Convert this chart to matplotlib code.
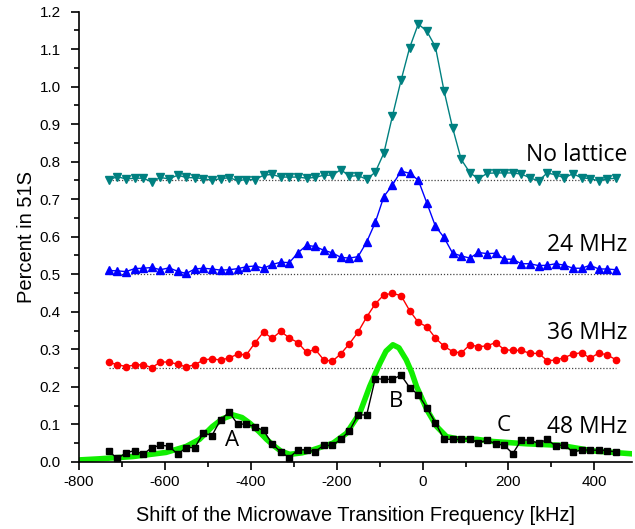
import matplotlib
matplotlib.use("Agg")
import matplotlib.pyplot as plt
import numpy as np
from matplotlib.ticker import MultipleLocator

plt.rcParams['axes.unicode_minus'] = False

# frequency shift [kHz], 20 kHz steps
freq = list(range(-730, 451, 20))

no_lattice = [0.752, 0.760, 0.754, 0.756, 0.756, 0.746, 0.758, 0.754, 0.764, 0.758,
              0.757, 0.755, 0.750, 0.755, 0.757, 0.750, 0.752, 0.752, 0.764, 0.766,
              0.759, 0.759, 0.759, 0.756, 0.758, 0.764, 0.764, 0.779, 0.761, 0.763,
              0.753, 0.772, 0.823, 0.922, 1.017, 1.104, 1.167, 1.148, 1.106, 0.989,
              0.890, 0.806, 0.771, 0.754, 0.769, 0.770, 0.770, 0.770, 0.767, 0.757,
              0.749, 0.770, 0.765, 0.757, 0.768, 0.757, 0.755, 0.749, 0.754, 0.756]

mhz24 = [0.510, 0.509, 0.507, 0.515, 0.516, 0.518, 0.512, 0.517, 0.508, 0.502,
         0.514, 0.516, 0.514, 0.511, 0.512, 0.515, 0.520, 0.522, 0.516, 0.526,
         0.532, 0.531, 0.557, 0.577, 0.574, 0.564, 0.557, 0.545, 0.543, 0.547,
         0.586, 0.638, 0.707, 0.738, 0.775, 0.769, 0.751, 0.690, 0.628, 0.598,
         0.556, 0.549, 0.543, 0.558, 0.555, 0.556, 0.540, 0.540, 0.528, 0.528,
         0.523, 0.524, 0.528, 0.524, 0.516, 0.516, 0.524, 0.514, 0.514, 0.512]

mhz36 = [0.265, 0.259, 0.254, 0.258, 0.259, 0.251, 0.266, 0.266, 0.260, 0.253,
         0.259, 0.271, 0.275, 0.271, 0.277, 0.287, 0.285, 0.317, 0.346, 0.329,
         0.348, 0.330, 0.318, 0.292, 0.300, 0.272, 0.268, 0.288, 0.315, 0.346,
         0.386, 0.421, 0.445, 0.449, 0.443, 0.403, 0.372, 0.360, 0.330, 0.308,
         0.294, 0.290, 0.312, 0.307, 0.309, 0.318, 0.299, 0.297, 0.297, 0.289,
         0.289, 0.270, 0.271, 0.278, 0.287, 0.291, 0.276, 0.290, 0.285, 0.272]

mhz48 = [0.028, 0.009, 0.024, 0.030, 0.020, 0.038, 0.044, 0.042, 0.020, 0.038,
         0.038, 0.077, 0.070, 0.112, 0.132, 0.100, 0.101, 0.093, 0.084, 0.048,
         0.026, 0.011, 0.032, 0.032, 0.027, 0.044, 0.044, 0.060, 0.083, 0.125,
         0.125, 0.222, 0.220, 0.220, 0.231, 0.198, 0.179, 0.144, 0.104, 0.060,
         0.060, 0.060, 0.062, 0.050, 0.058, 0.048, 0.044, 0.022, 0.058, 0.058,
         0.049, 0.060, 0.042, 0.046, 0.025, 0.032, 0.031, 0.031, 0.030, 0.026]

# fitted curve for 48 MHz
fit_x = [-800, -752, -674, -597, -550, -519, -489, -465, -441, -420, -402, -380,
         -363, -345, -329, -309, -280, -255, -208, -177, -146, -123, -110, -99,
         -85, -69, -55, -38, -25, -14, 0, 10, 33, 56, 87, 126, 165, 243, 320, 398, 491]
fit_y = [0.005, 0.008, 0.014, 0.025, 0.041, 0.060, 0.094, 0.115, 0.125, 0.118,
         0.103, 0.080, 0.060, 0.042, 0.028, 0.020, 0.024, 0.032, 0.050, 0.076,
         0.130, 0.201, 0.235, 0.263, 0.295, 0.312, 0.304, 0.272, 0.238, 0.201,
         0.165, 0.139, 0.094, 0.067, 0.060, 0.060, 0.054, 0.048, 0.044, 0.029, 0.021]

baselines = [0.75, 0.50, 0.25]

fig = plt.figure(figsize=(6.35, 5.29), dpi=100)
ax = fig.add_axes([0.124, 0.127, 0.871, 0.851])

for b in baselines:
  ax.plot([freq[0], freq[-1]], [b, b], ls=(0, (1, 1.5)), color='#444444', lw=0.9, zorder=1)

ax.plot(fit_x, fit_y, color='#11ee00', lw=4, solid_joinstyle='round',
        solid_capstyle='round', zorder=2)

ax.plot(freq, no_lattice, color='#008080', lw=1, marker='v', ms=5.5, zorder=3)
ax.plot(freq, mhz24, color='#0000ff', lw=1, marker='^', ms=5.5, zorder=3)
ax.plot(freq, mhz36, color='#ff0000', lw=1, marker='o', ms=4.5, zorder=3)
ax.plot(freq, mhz48, color='black', lw=1, marker='s', ms=4, zorder=3)

lbl_font = dict(family='Open Sans', size=16.5, ha='right', va='center')
ax.text(477, 0.819, 'No lattice', **lbl_font)
ax.text(477, 0.578, '24 MHz', **lbl_font)
ax.text(477, 0.344, '36 MHz', **lbl_font)
ax.text(477, 0.094, '48 MHz', **lbl_font)

pk_font = dict(family='Open Sans', size=16, ha='center', va='center')
ax.text(-444, 0.058, 'A', **pk_font)
ax.text(-62, 0.162, 'B', **pk_font)
ax.text(188, 0.096, 'C', **pk_font)

ax.set_xlim(-800, 487)
ax.set_ylim(0, 1.2)
ax.xaxis.set_major_locator(MultipleLocator(200))
ax.xaxis.set_minor_locator(MultipleLocator(100))
ax.yaxis.set_major_locator(MultipleLocator(0.1))
ax.yaxis.set_minor_locator(MultipleLocator(0.05))
ax.yaxis.set_major_formatter(matplotlib.ticker.FormatStrFormatter('%.1f'))

for s in ['top', 'right']:
  ax.spines[s].set_visible(False)
for s in ['left', 'bottom']:
  ax.spines[s].set_linewidth(1.2)

ax.tick_params(which='major', direction='out', length=6, width=1.2,
               labelsize=11, labelfontfamily='Liberation Sans')
ax.tick_params(axis='y', which='major', pad=7)
ax.tick_params(which='minor', direction='out', length=3.5, width=1.2)

ax.set_xlabel('Shift of the Microwave Transition Frequency [kHz]',
              family='Liberation Sans', size=14.3, labelpad=12)
ax.set_ylabel('Percent in 51S', family='Liberation Sans', size=14.5, labelpad=2.5)

fig.savefig('out.png', dpi=100)
